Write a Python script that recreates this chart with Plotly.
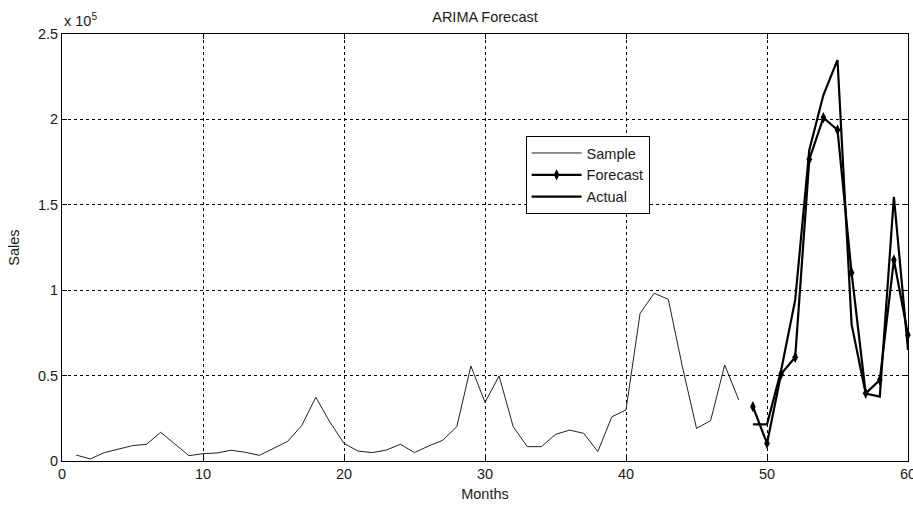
import plotly.graph_objects as go

sample_months = list(range(1, 49))
sample_sales = [3500, 1200, 4900, 7000, 9000, 9800, 16800, 10000, 3100, 4300,
                4700, 6300, 5100, 3300, 7400, 11500, 20700, 37300, 22800, 10300,
                5800, 4900, 6400, 9800, 4900, 8800, 12100, 20100, 55600, 34300,
                49800, 20100, 8400, 8400, 15600, 18100, 16200, 5500, 25900, 29900,
                86500, 98200, 94700, 55200, 19100, 23600, 56200, 35700]
forecast_months = list(range(49, 61))
forecast_sales = [31800, 10300, 50900, 60700, 176600, 201000, 193800, 110200,
                  39600, 47400, 117700, 73800]
actual_sales = [21500, 21500, 53000, 94300, 182100, 214300, 234800, 80000,
                39500, 37700, 154700, 65000]

x_ticks = [0, 10, 20, 30, 40, 50, 60]
y_ticks = [0, 50000, 100000, 150000, 200000, 250000]
y_ticklabels = ["0", "0.5", "1", "1.5", "2", "2.5"]

font_family = "Liberation Sans, Arial, sans-serif"
txt = "#1a1a1a"
fs = 14.5

fig = go.Figure()
fig.add_trace(go.Scatter(x=sample_months, y=sample_sales, mode="lines", name="Sample",
                         line=dict(color="#222222", width=1)))
fig.add_trace(go.Scatter(x=forecast_months, y=forecast_sales, mode="lines+markers", name="Forecast",
                         line=dict(color="black", width=2.2),
                         marker=dict(symbol="diamond-tall", size=8, color="black"),
                         cliponaxis=False))
fig.add_trace(go.Scatter(x=forecast_months, y=actual_sales, mode="lines", name="Actual",
                         line=dict(color="black", width=2.2)))

axis_common = dict(showline=True, linecolor="black", linewidth=1, mirror="ticks",
                   ticks="inside", ticklen=5, tickcolor="black",
                   showgrid=True, gridcolor="black", gridwidth=1, griddash="3px,3px",
                   zeroline=False, automargin=False, ticklabeloverflow="allow",
                   tickfont=dict(family=font_family, size=fs, color=txt))

fig.update_xaxes(range=[0, 60], tickvals=x_ticks,
                 title=dict(text="Months", font=dict(family=font_family, size=fs, color=txt), standoff=7),
                 **axis_common)
fig.update_yaxes(range=[0, 250000], tickvals=y_ticks, ticktext=y_ticklabels,
                 title=dict(text="Sales", font=dict(family=font_family, size=fs, color=txt), standoff=14),
                 **axis_common)

fig.update_layout(
    width=913, height=506,
    margin=dict(l=62, r=5, t=34, b=45, autoexpand=False),
    paper_bgcolor="white", plot_bgcolor="white",
    title=dict(text="ARIMA Forecast", x=0.5, xanchor="center", xref="paper",
               y=0.966, yanchor="middle", yref="container",
               font=dict(family=font_family, size=fs, color=txt)),
    showlegend=True,
    legend=dict(x=0.548, y=0.761, xanchor="left", yanchor="top",
                bgcolor="white", bordercolor="black", borderwidth=1,
                font=dict(family=font_family, size=fs, color=txt),
                tracegroupgap=0, itemwidth=50),
    font=dict(family=font_family, color=txt),
    annotations=[dict(text="x 10<sup>5</sup>", xref="paper", yref="paper", x=0, y=1.0,
                      xanchor="left", yanchor="bottom", yshift=3, showarrow=False,
                      font=dict(family=font_family, size=fs, color=txt))],
)

# remove the default 8px page margin so the figure fills the window exactly
fig.write_html("out.html",
               config={"displayModeBar": False},
               post_script="document.body.style.margin='0';document.body.style.overflow='hidden';")
